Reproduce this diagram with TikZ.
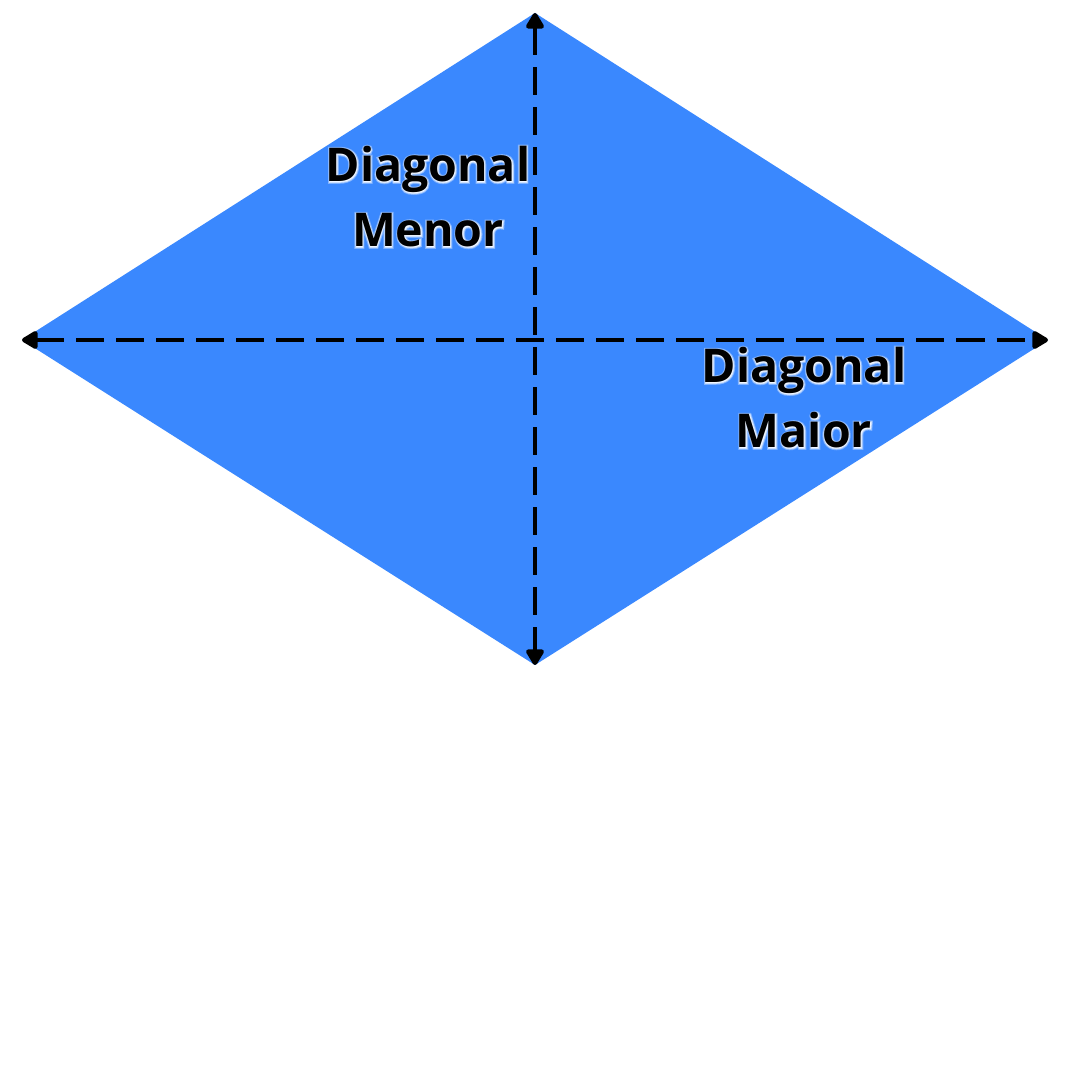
\documentclass[tikz,border=0pt]{standalone}
\usepackage{fontspec}
\setmainfont{Open Sans}
\newfontfamily\haloA[FakeBold=4]{Open Sans Bold}
\newfontfamily\haloB[FakeBold=8]{Open Sans Bold}
\usetikzlibrary{arrows.meta,calc}
\definecolor{dblue}{RGB}{58,136,254}
\tikzset{
  diag/.style={line width=4.5pt, dash pattern=on 28pt off 12pt, {Triangle[length=18pt,width=20pt,round]}-{Triangle[length=18pt,width=20pt,round]}},
  lbl/.style={align=center, inner sep=0pt},
  lsize/.style={font=\fontsize{46.5}{65}\selectfont},
}
\newcommand{\glowlabel}[3]{%
  \node[lbl, text=white, opacity=0.35, font=\haloB\fontsize{46.5}{65}\selectfont] at (#1) {#3};
  \node[lbl, text=white, opacity=0.6, font=\haloA\fontsize{46.5}{65}\selectfont] at (#1) {#3};
  \node[lbl, text=black, font=\bfseries\fontsize{46.5}{65}\selectfont] (#2) at (#1) {#3};
}
\begin{document}
\begin{tikzpicture}[x=1pt,y=1pt]
\useasboundingbox (0,0) rectangle (1080,1080);
\coordinate (T) at (535,1067);
\coordinate (B) at (535,415);
\coordinate (L) at (22,740);
\coordinate (R) at (1048,740);
\fill[dblue] (T) -- (R) -- (B) -- (L) -- cycle;
\draw[diag] (L) -- (R);
\draw[diag] (T) -- (B);
\coordinate (pmenor) at (428,883);
\coordinate (pmaior) at (804,682);
\glowlabel{pmenor}{menor}{Diagonal\\Menor}
\glowlabel{pmaior}{maior}{Diagonal\\Maior}
\end{tikzpicture}
\end{document}
